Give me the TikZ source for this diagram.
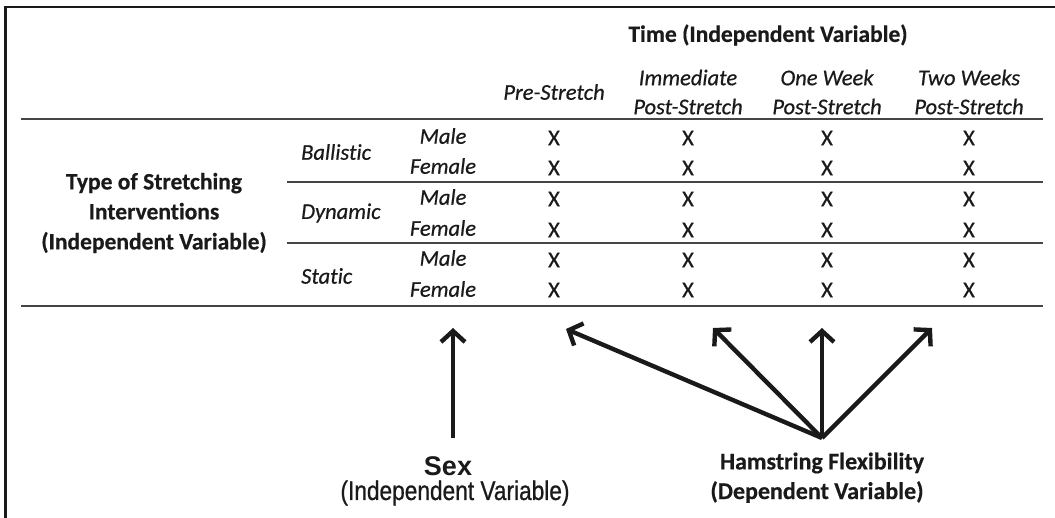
\documentclass[tikz,border=0pt]{standalone}
\usepackage{fontspec}
\setmainfont{Carlito}[Ligatures=NoCommon,
  UprightFeatures={FakeBold=0.6}, ItalicFeatures={FakeBold=0.6},
  BoldFeatures={FakeBold=0.5}]
\newfontfamily\sexfont{Liberation Sans}
\newfontfamily\narrowfont{Liberation Sans}[FakeStretch=0.84, FakeBold=0.8]
\usetikzlibrary{arrows.meta}
\definecolor{ink}{HTML}{1A1A1A}
\definecolor{rulec}{HTML}{454545}
\begin{document}
\begin{tikzpicture}[x=1pt,y=-1pt,
  base/.style={inner sep=0pt, text=ink},
  headb/.style={base, font=\fontsize{23.5}{30}\selectfont\bfseries, align=center},
  headi/.style={base, font=\fontsize{22.5}{29}\selectfont\itshape, align=center},
  lab/.style={base, font=\fontsize{22.5}{29}\selectfont\itshape},
  xmark/.style={base, font=\fontsize{22.5}{29}\selectfont},
  tabrule/.style={draw=rulec, line width=1.6pt},
  bigarrow/.style={draw=ink, line width=4.4pt, -{Straight Barb[length=11pt,width=24pt]}},
  lowb/.style={base, font=\fontsize{24}{30}\selectfont\bfseries, align=center},
  lowr/.style={base, font=\narrowfont\fontsize{27}{30}\selectfont, align=center}]
\useasboundingbox (0,0) rectangle (1055,518);
% frame
\draw[ink, line width=2.6pt] (5.5,520) |- (1057,7);
% title and headers
\node[headb] (time) at (768,35) {Time (Independent Variable)};
\node[headi] (pre) at (554,92) {Pre-Stretch};
\node[headi] (imm) at (688,92) {Immediate\\Post-Stretch};
\node[headi] (one) at (827,92) {One Week\\Post-Stretch};
\node[headi] (two) at (969,92) {Two Weeks\\Post-Stretch};
% table rules
\draw[tabrule] (21,119) -- (1043,119);
\draw[tabrule] (287,182) -- (1043,182);
\draw[tabrule] (287,243) -- (1043,243);
\draw[tabrule] (21,306) -- (1043,306);
% row header
\node[headb] (type) at (154,213) {Type of Stretching\\Interventions\\(Independent Variable)};
\node[lab, anchor=west] (ball) at (301,152) {Ballistic};
\node[lab, anchor=west] (dyn) at (301,213) {Dynamic};
\node[lab, anchor=west] (stat) at (301,276) {Static};
\foreach \r/\y/\t in {1/136/Male,2/166/Female,3/197/Male,4/228/Female,5/258/Male,6/289/Female}
  \node[lab] (sx\r) at (443,\y) {\t};
\foreach \r/\y in {1/138,2/168,3/199,4/230,5/260,6/290}
  \foreach \c/\x in {a/554,b/688,c/827,d/969}
    \node[xmark] (x\r\c) at (\x,\y) {X};
% lower labels
\node[base, font=\sexfont\fontsize{27}{30}\selectfont\bfseries] (sex) at (448,466) {Sex};
\node[lowr] (sexiv) at (455,493) {(Independent Variable)};
\node[lowb] (ham) at (822,463) {Hamstring Flexibility};
\node[lowb] (hamdv) at (817,492) {(Dependent Variable)};
% arrows
\coordinate (sexbase) at (453,438);
\coordinate (sextip) at (453,328);
\coordinate (fan) at (822,438);
\coordinate (t1) at (566,329);
\coordinate (t2) at (713,328);
\coordinate (t3) at (822,328);
\coordinate (t4) at (932,328);
\draw[bigarrow] (sexbase) -- (sextip);
\foreach \t in {t1,t2,t3,t4} \draw[bigarrow] (fan) -- (\t);
\end{tikzpicture}
\end{document}
